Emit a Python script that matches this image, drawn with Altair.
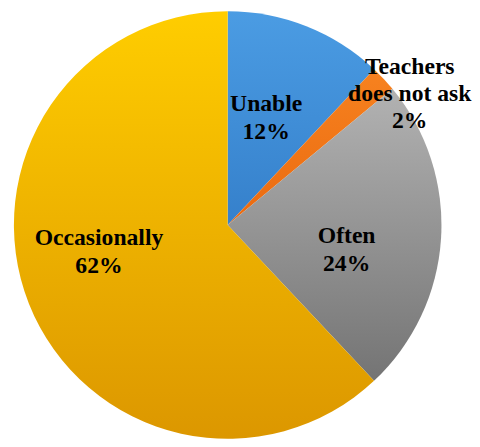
import altair as alt
import pandas as pd

categories = ["Unable", "Teachers does not ask", "Often", "Occasionally"]
values = [12, 2, 24, 62]
label_lines = [
    ["Unable", "12%"],
    ["Teachers", "does not ask", "2%"],
    ["Often", "24%"],
    ["Occasionally", "62%"],
]

max_lines = max(len(l) for l in label_lines)
df = pd.DataFrame({
    "category": categories,
    "value": values,
    "order": list(range(len(categories))),
})
for k in range(max_lines):
    df[f"line{k}"] = [l[k] if k < len(l) else "" for l in label_lines]
total = sum(values)

gradients = {
    "Unable": ("#4b9ce3", "#3580cb"),
    "Teachers does not ask": ("#f7821f", "#ea6a10"),
    "Often": ("#b2b2b2", "#747474"),
    "Occasionally": ("#ffcd00", "#dc9700"),
}
label_style = {
    "Unable": dict(radius=117, dx=-4, dy=-7, pitch=28),
    "Teachers does not ask": dict(radius=200, dx=39, dy=-16, pitch=27),
    "Often": dict(radius=121, dx=0, dy=11, pitch=28),
    "Occasionally": dict(radius=133, dx=-7, dy=-29, pitch=29),
}

base = alt.Chart(df).transform_window(
    end="sum(value)", sort=[alt.SortField("order")], frame=[None, 0]
).transform_calculate(
    start="datum.end - datum.value",
    mid="datum.end - datum.value / 2",
)

theta_scale = alt.Scale(domain=[0, total])

layers = []
for cat in categories:
    top, bottom = gradients[cat]
    grad = alt.Gradient(
        gradient="linear",
        stops=[alt.GradientStop(color=top, offset=0), alt.GradientStop(color=bottom, offset=1)],
        x1=0, x2=0, y1=0, y2=1,
    )
    arc = base.transform_filter(alt.datum.category == cat).mark_arc(
        outerRadius=217, color=grad
    ).encode(
        theta=alt.Theta("start:Q", scale=theta_scale),
        theta2="end:Q",
    )
    layers.append(arc)

for cat, lines in zip(categories, label_lines):
    s = label_style[cat]
    for k in range(len(lines)):
        txt = base.transform_filter(alt.datum.category == cat).mark_text(
            radius=s["radius"], dx=s["dx"], dy=s["dy"] + k * s["pitch"],
            font="Liberation Serif", fontSize=24, fontWeight="bold",
            color="black", align="center", baseline="alphabetic",
        ).encode(
            theta=alt.Theta("mid:Q", scale=theta_scale),
            text=alt.Text(f"line{k}:N"),
        )
        layers.append(txt)

chart = alt.layer(*layers).properties(
    width=446, height=430, padding=0
).configure(font="Liberation Serif").configure_text(font="Liberation Serif").configure_view(stroke=None)

chart.save("out.html", embed_options={"renderer": "svg", "actions": False})
